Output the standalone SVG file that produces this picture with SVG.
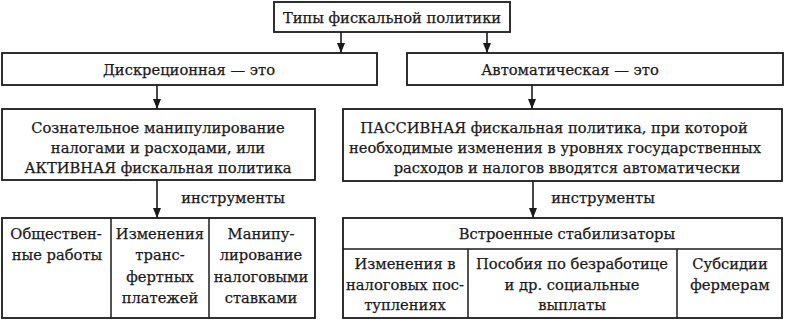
<svg xmlns="http://www.w3.org/2000/svg" width="785" height="320" viewBox="0 0 785 320">
<style>
.b{fill:#fff;stroke:#1a1a1a;stroke-width:1.8}
.d{stroke:#1a1a1a;stroke-width:1.5;fill:none}
.t{font-family:"DejaVu Serif",serif;font-size:14.7px;fill:#1a1a1a;stroke:#1a1a1a;stroke-width:0.25;text-anchor:middle}
.c{stroke:#1a1a1a;stroke-width:1.6;fill:none;marker-end:url(#ah)}
</style>
<defs>
<marker id="ah" viewBox="0 0 10 10" refX="10" refY="5" markerWidth="10" markerHeight="10" markerUnits="userSpaceOnUse" orient="auto">
<path d="M0,1 L10,5 L0,9 Z" fill="#1a1a1a"/>
</marker>
</defs>
<rect width="785" height="320" fill="#fff"/>
<g id="connectors">
<line class="c" x1="341" y1="32" x2="341" y2="53"/>
<line class="c" x1="487" y1="32" x2="487" y2="53"/>
<line class="c" x1="157" y1="85" x2="157" y2="109"/>
<line class="c" x1="532" y1="85" x2="532" y2="109"/>
<line class="c" x1="157" y1="180" x2="157" y2="218"/>
<line class="c" x1="533" y1="181" x2="533" y2="218"/>
<text class="t" x="233" y="203">инструменты</text>
<text class="t" x="603" y="203">инструменты</text>
</g>
<g id="root">
<rect class="b" x="274" y="2" width="236" height="30"/>
<text class="t" x="392" y="23">Типы фискальной политики</text>
</g>
<g id="discr">
<rect class="b" x="2" y="53" width="375" height="32"/>
<text class="t" x="189" y="75">Дискреционная — это</text>
</g>
<g id="auto">
<rect class="b" x="407" y="53" width="376" height="32"/>
<text class="t" x="570" y="75">Автоматическая — это</text>
</g>
<g id="active">
<rect class="b" x="2" y="109" width="313" height="71"/>
<text class="t" x="158" y="133">Сознательное манипулирование</text>
<text class="t" x="158" y="153">налогами и расходами, или</text>
<text class="t" x="158" y="173">АКТИВНАЯ фискальная политика</text>
</g>
<g id="passive">
<rect class="b" x="343" y="109" width="439" height="72"/>
<text class="t" x="554" y="133">ПАССИВНАЯ фискальная политика, при которой</text>
<text class="t" x="555" y="153">необходимые изменения в уровнях государственных</text>
<text class="t" x="567" y="173">расходов и налогов вводятся автоматически</text>
</g>
<g id="left-tools">
<rect class="b" x="2" y="218" width="313" height="100"/>
<line class="d" x1="111" y1="218" x2="111" y2="318"/>
<line class="d" x1="209" y1="218" x2="209" y2="318"/>
</g>
<g id="public-works">
<text class="t" x="56" y="239">Обществен-</text>
<text class="t" x="57" y="260">ные работы</text>
</g>
<g id="transfers">
<text class="t" x="160" y="239">Изменения</text>
<text class="t" x="160" y="260">транс-</text>
<text class="t" x="160" y="282">фертных</text>
<text class="t" x="160" y="303">платежей</text>
</g>
<g id="tax-rates">
<text class="t" x="261" y="239">Манипу-</text>
<text class="t" x="261" y="260">лирование</text>
<text class="t" x="261" y="282">налоговыми</text>
<text class="t" x="261" y="303">ставками</text>
</g>
<g id="stabilizers">
<rect class="b" x="343" y="218" width="439" height="100"/>
<line class="d" x1="343" y1="249" x2="782" y2="249"/>
<line class="d" x1="468" y1="249" x2="468" y2="318"/>
<line class="d" x1="677" y1="249" x2="677" y2="318"/>
<text class="t" x="567" y="239">Встроенные стабилизаторы</text>
</g>
<g id="tax-receipts">
<text class="t" x="405" y="269">Изменения в</text>
<text class="t" x="405" y="290">налоговых пос-</text>
<text class="t" x="405" y="310">туплениях</text>
</g>
<g id="benefits">
<text class="t" x="572" y="269">Пособия по безработице</text>
<text class="t" x="572" y="290">и др. социальные</text>
<text class="t" x="572" y="310">выплаты</text>
</g>
<g id="subsidies">
<text class="t" x="730" y="269">Субсидии</text>
<text class="t" x="730" y="290">фермерам</text>
</g>
</svg>
